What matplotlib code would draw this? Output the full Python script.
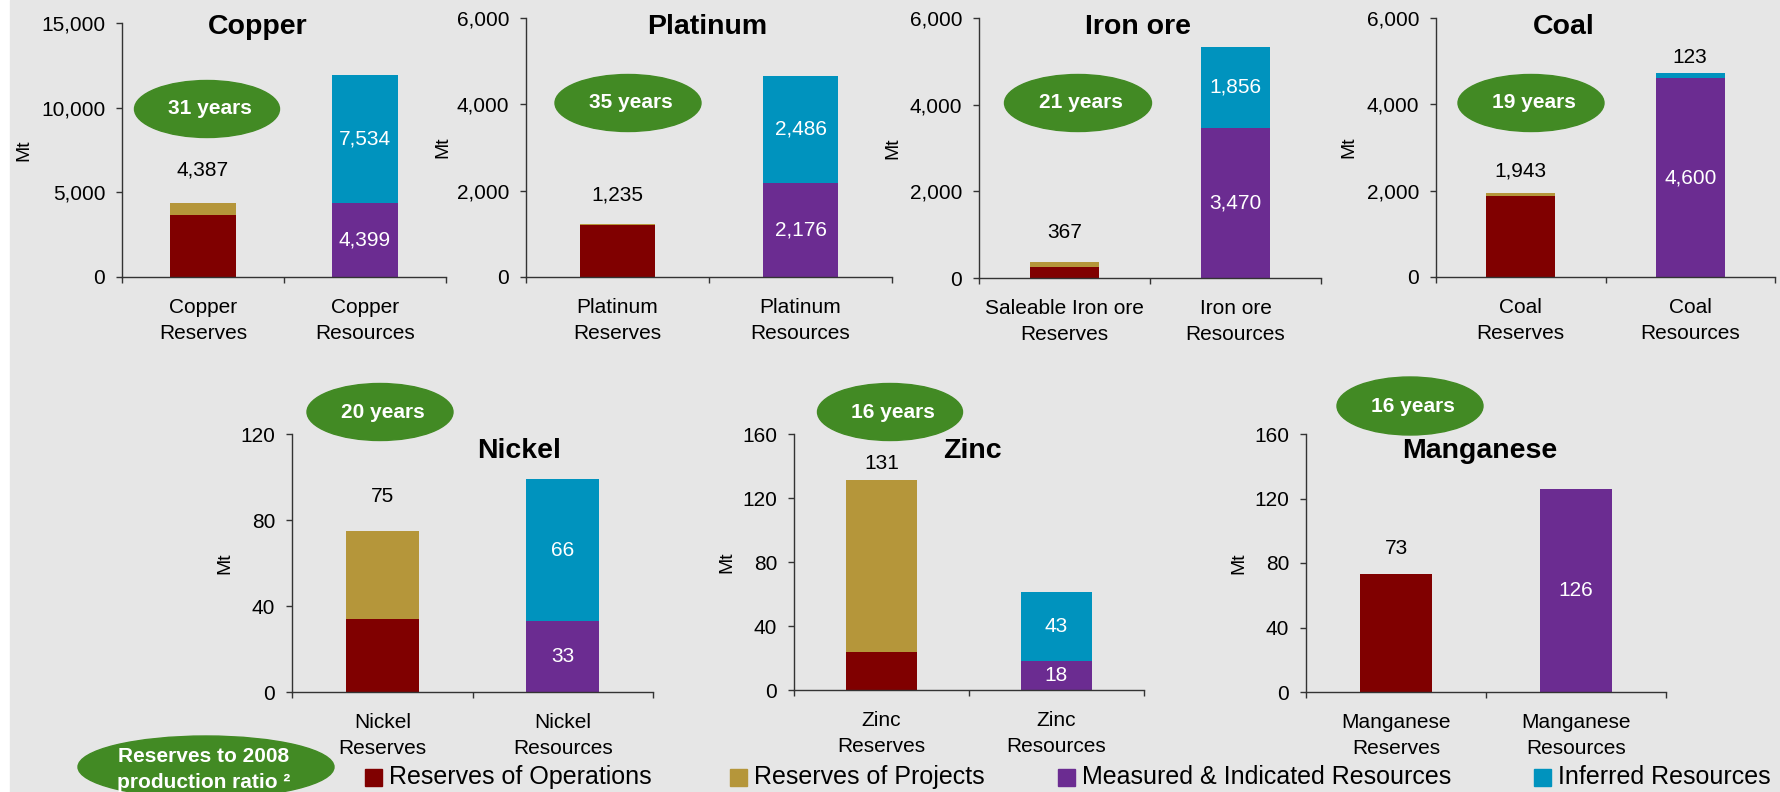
import matplotlib.pyplot as plt
from matplotlib.patches import Ellipse, Rectangle
from matplotlib.ticker import MultipleLocator, StrMethodFormatter

plt.rcParams['font.family'] = ['Liberation Sans', 'DejaVu Sans']

# reserves and resources by commodity (Mt)
commodities = ["Copper", "Platinum", "Iron ore", "Coal", "Nickel", "Zinc", "Manganese"]
reserve_labels = ["Copper\nReserves", "Platinum\nReserves", "Saleable Iron ore\nReserves",
                  "Coal\nReserves", "Nickel\nReserves", "Zinc\nReserves", "Manganese\nReserves"]
resource_labels = ["Copper\nResources", "Platinum\nResources", "Iron ore\nResources",
                   "Coal\nResources", "Nickel\nResources", "Zinc\nResources", "Manganese\nResources"]
reserves_total = [4387, 1235, 367, 1943, 75, 131, 73]
reserves_operations = [3660, 1205, 254, 1876, 34, 24, 73]
measured_indicated = [4399, 2176, 3470, 4600, 33, 18, 126]
inferred = [7534, 2486, 1856, 123, 66, 43, 0]
years = [31, 35, 21, 19, 20, 16, 16]
y_max = [15000, 6000, 6000, 6000, 120, 160, 160]
y_step = [5000, 2000, 2000, 2000, 40, 40, 40]

legend_names = ["Reserves of Operations", "Reserves of Projects",
                "Measured & Indicated Resources", "Inferred Resources"]

c_ops = "#800000"
c_proj = "#b5963a"
c_mi = "#6b2c91"
c_inf = "#0093be"
c_green = "#428a24"
bg = "#e6e6e6"

W, H = 1780, 792


def fx(px):
    return px / W


def fy(py):
    return 1 - py / H


# panel layout in pixels: axes box (x0, x1, ytop, ybottom), title, oval, "Mt" label x, gap of total label
axes_box = [(122, 446, 23, 277), (526, 892, 18, 277), (979, 1321, 18, 278), (1436, 1775, 18, 277),
            (292, 653, 434, 692), (794, 1144, 434, 690), (1306, 1666, 434, 692)]
title_pos = [(258, 27), (707, 27), (1138, 27), (1564, 27), (519, 451), (972, 451), (1480, 451)]
oval_pos = [(207, 109, 145, 57), (628, 103, 146, 57), (1078, 103, 147, 57), (1531, 103, 146, 57),
            (380, 412, 146, 57), (890, 412, 145, 57), (1410, 406, 146, 58)]
mt_x = [21, 440, 890, 1346, 222, 724, 1236]
label_gap = [33, 29, 30, 22, 34, 17, 26]

fig = plt.figure(figsize=(17.8, 7.92), dpi=100)
fig.patch.set_facecolor("white")
fig.patches.append(Rectangle((fx(10), 0), 1 - fx(10), 1, transform=fig.transFigure,
                             color=bg, zorder=-10))

bar_w = 0.405
for i in range(len(commodities)):
    x0, x1, y0, y1 = axes_box[i]
    ax = fig.add_axes([fx(x0), fy(y1), (x1 - x0) / W, (y1 - y0) / H])
    ax.patch.set_visible(False)

    ops = reserves_operations[i]
    proj = reserves_total[i] - ops
    mi = measured_indicated[i]
    inf = inferred[i]

    ax.bar(0, ops, bar_w, color=c_ops)
    ax.bar(0, proj, bar_w, bottom=ops, color=c_proj)
    ax.bar(1, mi, bar_w, color=c_mi)
    ax.bar(1, inf, bar_w, bottom=mi, color=c_inf)

    ax.set_xlim(-0.5, 1.5)
    ax.set_ylim(0, y_max[i])
    ax.yaxis.set_major_locator(MultipleLocator(y_step[i]))
    ax.yaxis.set_major_formatter(StrMethodFormatter("{x:,.0f}"))
    ax.set_xticks([0, 1], [reserve_labels[i], resource_labels[i]])
    for lbl in ax.get_xticklabels():
        lbl.set_linespacing(1.45)
    ax.set_xticks([-0.5, 0.5, 1.5], minor=True)
    ax.tick_params(axis="x", which="major", length=0, pad=15, labelsize=15)
    ax.tick_params(axis="x", which="minor", length=4, width=1, color="#333333")
    ax.tick_params(axis="y", length=4, width=1, color="#333333", pad=8, labelsize=15)
    for s in ["top", "right"]:
        ax.spines[s].set_visible(False)
    for s in ["left", "bottom"]:
        ax.spines[s].set_color("#333333")
        ax.spines[s].set_linewidth(1.0)

    ax.set_ylabel("Mt", fontsize=14)
    ax.yaxis.set_label_coords(-(x0 - (mt_x[i] + 11)) / (x1 - x0), 0.5)

    # reserves total on top of the bar
    ax.annotate("{:,}".format(reserves_total[i]), xy=(0, reserves_total[i]),
                xytext=(0, label_gap[i] * 0.72), textcoords="offset points",
                ha="center", va="center", fontsize=15)

    # resource values inside the segments
    ax.text(1, mi / 2, "{:,}".format(mi), color="white", ha="center", va="center", fontsize=15)
    if inf > 0.05 * y_max[i]:
        ax.text(1, mi + inf / 2, "{:,}".format(inf), color="white", ha="center", va="center",
                fontsize=15)
    elif inf > 0:
        ax.annotate("{:,}".format(inf), xy=(1, mi + inf), xytext=(0, 11),
                    textcoords="offset points", ha="center", va="center", fontsize=15)

    tx, ty = title_pos[i]
    fig.text(fx(tx), fy(ty), commodities[i], fontsize=20.5, fontweight="bold",
             ha="center", va="center")

    cx, cy, ew, eh = oval_pos[i]
    fig.patches.append(Ellipse((fx(cx), fy(cy)), ew / W, eh / H, transform=fig.transFigure,
                               color=c_green, zorder=2))
    fig.text(fx(cx + 3), fy(cy), "{} years".format(years[i]), color="white", fontsize=15,
             fontweight="bold", ha="center", va="center", zorder=3)

# note oval at bottom left
fig.patches.append(Ellipse((fx(206), fy(767)), 256 / W, 62 / H, transform=fig.transFigure,
                           color=c_green, zorder=2))
fig.text(fx(204), fy(756), "Reserves to 2008", color="white", fontsize=15, fontweight="bold",
         ha="center", va="center", zorder=3)
fig.text(fx(204), fy(782), "production ratio \u00b2", color="white", fontsize=15,
         fontweight="bold", ha="center", va="center", zorder=3)

# legend along the bottom
legend_colors = [c_ops, c_proj, c_mi, c_inf]
legend_x = [365, 730, 1058, 1534]
for name, col, lx in zip(legend_names, legend_colors, legend_x):
    fig.patches.append(Rectangle((fx(lx), fy(786)), 17 / W, 17 / H, transform=fig.transFigure,
                                 color=col))
    fig.text(fx(lx + 24), fy(777), name, fontsize=18, ha="left", va="center")

plt.savefig("out.png", dpi=100)
